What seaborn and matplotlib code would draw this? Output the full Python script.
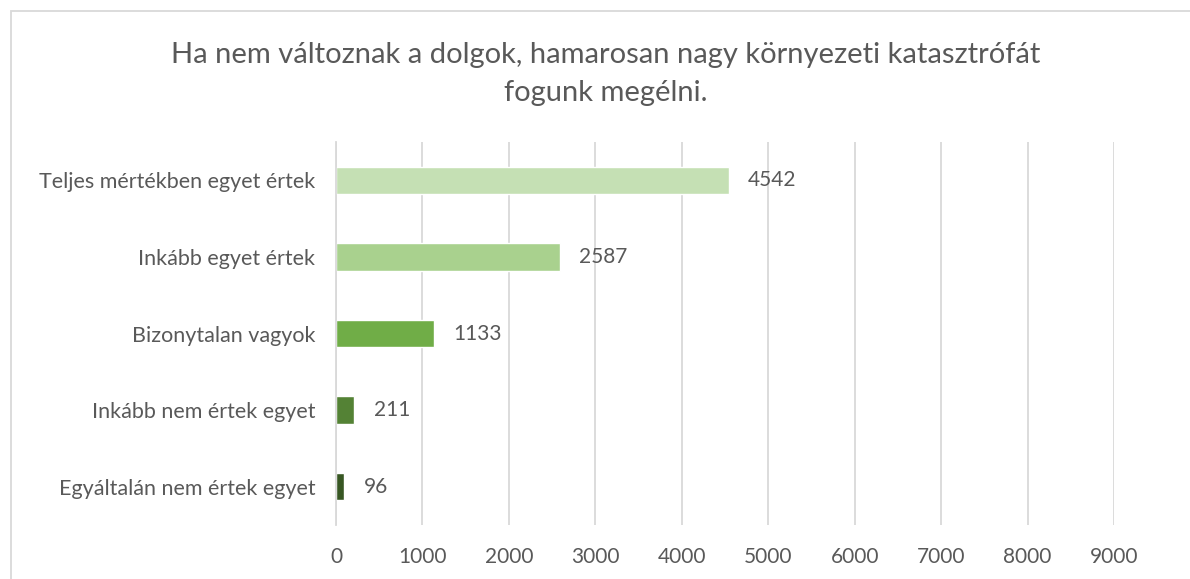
import numpy as np
import pandas as pd
import seaborn as sns
import matplotlib.pyplot as plt
from matplotlib.patches import Rectangle

# data
categories = ['Teljes mértékben egyet értek', 'Inkább egyet értek', 'Bizonytalan vagyok',
              'Inkább nem értek egyet', 'Egyáltalán nem értek egyet']
counts = [4542, 2587, 1133, 211, 96]
bar_colors = ['#C5E0B4', '#A9D18E', '#70AD47', '#548235', '#385723']
x_ticks = [0, 1000, 2000, 3000, 4000, 5000, 6000, 7000, 8000, 9000]
title = 'Ha nem változnak a dolgok, hamarosan nagy környezeti katasztrófát\nfogunk megélni.'

df = pd.DataFrame({'answer': categories, 'count': counts})

sns.set_style('white')
plt.rcParams['font.family'] = ['Lato', 'DejaVu Sans']
text_color = '#595959'

fig = plt.figure(figsize=(11.9, 5.79), dpi=100)
ax = fig.add_axes([336 / 1190, 1 - 525 / 579, (1114 - 336) / 1190, (525 - 142) / 579])

sns.barplot(data=df, x='count', y='answer', hue='answer', palette=bar_colors,
            orient='h', width=0.36, saturation=1, legend=False, ax=ax)

for cont in ax.containers:
    ax.bar_label(cont, padding=14, fontsize=15, color=text_color)

ax.set_xlim(0, 9000)
ax.set_xticks(x_ticks)
ax.set_xticklabels([str(t) for t in x_ticks], fontsize=15, color=text_color)
ax.tick_params(axis='y', labelsize=15.5, labelcolor=text_color, length=0, pad=15)
ax.tick_params(axis='x', length=0, pad=16)
ax.set_xlabel('')
ax.set_ylabel('')
ax.grid(axis='x', color='#D9D9D9', linewidth=1.3)
ax.set_axisbelow(True)
for side in ['top', 'right', 'bottom']:
    ax.spines[side].set_visible(False)
ax.spines['left'].set_color('#D9D9D9')
ax.spines['left'].set_linewidth(1.3)

# chart frame like the spreadsheet chart area
fig.patches.append(Rectangle((11 / 1190, -0.1), 1.1, 1 - 10.5 / 579 + 0.1,
                             transform=fig.transFigure, fill=False,
                             edgecolor='#D9D9D9', linewidth=1.3))

fig.text(606 / 1190, 1 - 74 / 579, title, ha='center', va='center',
         fontsize=21, color=text_color, linespacing=1.6)

fig.savefig('out.png', dpi=100, facecolor='white')
